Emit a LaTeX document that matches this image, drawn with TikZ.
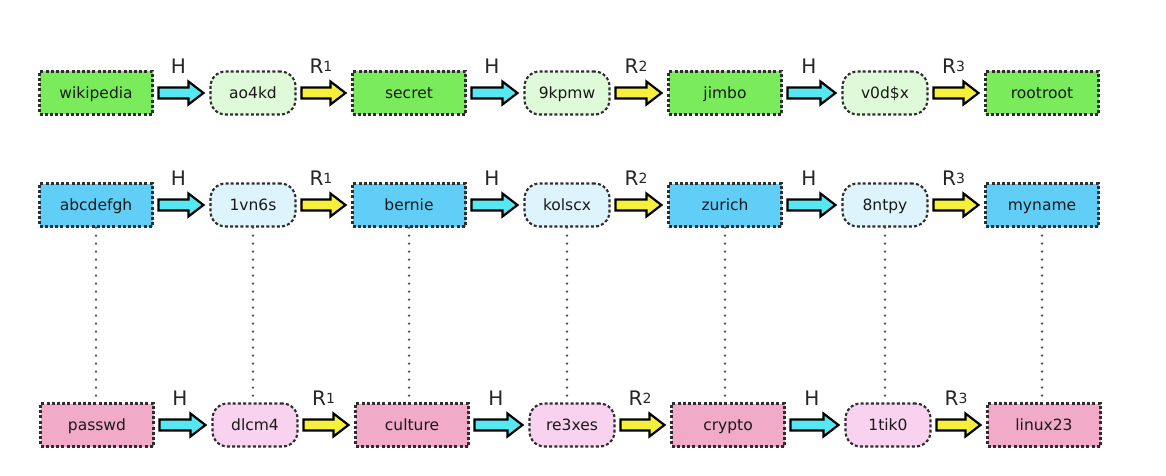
\documentclass[tikz,border=0pt]{standalone}
\usepackage{fontspec}
\setmainfont{DejaVu Sans}
\usetikzlibrary{calc}
\definecolor{gbox}{RGB}{122,236,92}
\definecolor{ghash}{RGB}{222,250,216}
\definecolor{bbox}{RGB}{96,206,246}
\definecolor{bhash}{RGB}{222,244,252}
\definecolor{pbox}{RGB}{241,170,200}
\definecolor{phash}{RGB}{248,210,238}
\definecolor{hcol}{RGB}{85,232,242}
\definecolor{rcol}{RGB}{246,240,60}
\definecolor{bordc}{RGB}{45,45,45}
\definecolor{dotc}{RGB}{80,80,80}
\newcommand\Rlab[1]{R\raisebox{1.5pt}{\fontsize{14}{14}\selectfont#1}}
\tikzset{
  txt/.style={font=\fontsize{15.5}{15.5}\selectfont, text=black!90, text height=11.5pt, text depth=0.5pt},
  pw/.style={txt, rectangle, draw=bordc, dash pattern=on 3pt off 2.2pt, line width=2.1pt,
    minimum width=113pt, minimum height=43pt, inner sep=0pt, fill=#1},
  hs/.style={txt, rectangle, rounded corners=15pt, draw=bordc, dash pattern=on 3pt off 2.2pt, line width=2.1pt,
    minimum width=85pt, minimum height=43pt, inner sep=0pt, fill=#1},
  barrow/.style={fill=#1, draw=black, line width=2.2pt, line join=miter,
    to path={let \p1=($(\tikztostart)+(5,0)$), \p2=($(\tikztotarget)+(-6,0)$) in
      (\x1,\y1+5.5pt) -- (\x2-15pt,\y1+5.5pt) -- (\x2-15pt,\y1+11.5pt) -- (\x2,\y1)
      -- (\x2-15pt,\y1-11.5pt) -- (\x2-15pt,\y1-5.5pt) -- (\x1,\y1-5.5pt) -- cycle}},
  lab/.style={font=\fontsize{20}{20}\selectfont, text=black!85, inner sep=0pt},
  dotline/.style={draw=dotc, line width=2.6pt, dash pattern=on 0pt off 8pt, line cap=round}
}
\begin{document}
\begin{tikzpicture}[x=1pt,y=-1pt]
\useasboundingbox[fill=white] (0,0) rectangle (1166,476);
% row 1
\node[pw=gbox]  (r1c1) at (96,93)   {wikipedia};
\node[hs=ghash] (r1c2) at (253,93)  {ao4kd};
\node[pw=gbox]  (r1c3) at (409,93)  {secret};
\node[hs=ghash] (r1c4) at (567,93)  {9kpmw};
\node[pw=gbox]  (r1c5) at (725,93)  {jimbo};
\node[hs=ghash] (r1c6) at (885,93)  {v0d\$x};
\node[pw=gbox]  (r1c7) at (1042,93) {rootroot};
% row 2
\node[pw=bbox]  (r2c1) at (96,205)   {abcdefgh};
\node[hs=bhash] (r2c2) at (253,205)  {1vn6s};
\node[pw=bbox]  (r2c3) at (409,205)  {bernie};
\node[hs=bhash] (r2c4) at (567,205)  {kolscx};
\node[pw=bbox]  (r2c5) at (725,205)  {zurich};
\node[hs=bhash] (r2c6) at (885,205)  {8ntpy};
\node[pw=bbox]  (r2c7) at (1042,205) {myname};
% row 3
\node[pw=pbox]  (r3c1) at (97,425)   {passwd};
\node[hs=phash] (r3c2) at (255,425)  {dlcm4};
\node[pw=pbox]  (r3c3) at (412,425)  {culture};
\node[hs=phash] (r3c4) at (572,425)  {re3xes};
\node[pw=pbox]  (r3c5) at (728,425)  {crypto};
\node[hs=phash] (r3c6) at (888,425)  {1tik0};
\node[pw=pbox]  (r3c7) at (1044,425) {linux23};
% dotted links
\foreach \i in {1,...,7}
  \draw[dotline] (r2c\i.south) -- (r2c\i.south |- r3c\i.north);
% arrows and labels
\foreach \r in {1,2,3}
  \foreach \i/\j/\c/\l in {1/2/hcol/H,2/3/rcol/\Rlab1,3/4/hcol/H,4/5/rcol/\Rlab2,5/6/hcol/H,6/7/rcol/\Rlab3}{
    \draw[barrow=\c] (r\r c\i.east) to (r\r c\j.west);
    \node[lab] (l\r c\i) at ($(r\r c\i.east)!0.5!(r\r c\j.west)+(-3,-27)$) {\l};
  }
\end{tikzpicture}
\end{document}
